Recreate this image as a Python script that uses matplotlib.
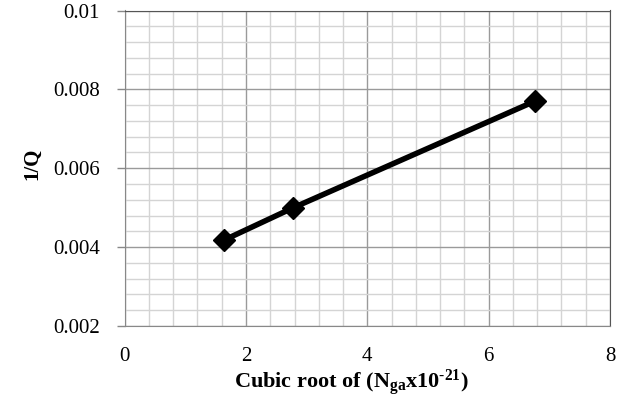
import matplotlib
matplotlib.use("Agg")
import matplotlib.pyplot as plt
import numpy as np

x_vals = [1.64, 2.78, 6.76]
y_vals = [0.00418, 0.00500, 0.00770]
x_ticks = [0, 2, 4, 6, 8]
y_ticks = [0.002, 0.004, 0.006, 0.008, 0.01]
y_tick_labels = ["0.002", "0.004", "0.006", "0.008", "0.01"]

plt.rcParams['font.family'] = ['Liberation Serif', 'DejaVu Serif']
plt.rcParams['mathtext.fontset'] = 'custom'
plt.rcParams['mathtext.rm'] = 'Liberation Serif'
plt.rcParams['mathtext.it'] = 'Liberation Serif:italic'
plt.rcParams['mathtext.bf'] = 'Liberation Serif:bold'

fig = plt.figure(figsize=(6.33, 4.03), dpi=100)
ax = fig.add_axes([124.7/633, 1 - 326/403, (610 - 124.7)/633, (326 - 10.5)/403])

ax.set_xlim(0, 8)
ax.set_ylim(0.002, 0.01)
ax.set_xticks(x_ticks)
ax.set_yticks(y_ticks)
ax.set_yticklabels(y_tick_labels)
ax.set_xticks(np.arange(0, 8.01, 0.4), minor=True)
ax.set_yticks(np.arange(0.002, 0.01001, 0.0004), minor=True)

ax.grid(which='minor', color='#d4d4d4', linewidth=1.0)
ax.grid(which='major', color='#9a9a9a', linewidth=1.0)
ax.set_axisbelow(True)

ax.tick_params(axis='y', which='major', length=6, width=1, color='#888888', labelsize=15, pad=12)
ax.tick_params(axis='x', which='major', length=0, labelsize=15, pad=15)
ax.tick_params(which='minor', length=0)

for s in ['left', 'bottom']:
    ax.spines[s].set_color('#888888')
for s in ['top', 'right']:
    ax.spines[s].set_color('#555555')

ax.plot(x_vals, y_vals, color='black', linewidth=4, marker='D', markersize=11,
        markerfacecolor='black', markeredgecolor='black', zorder=3)

fig.text(351.5/633, 1 - 383/403,
         "Cubic root of (N$_{\\mathbf{ga}}$x10$^{\\mathbf{\u2010}\\mathbf{21}}$)",
         fontsize=16, fontweight='bold', ha='center', va='center')
fig.text(32/633, 1 - 164/403, "1/Q", fontsize=15, fontweight='bold',
         rotation=90, ha='center', va='center')

fig.savefig("out.png", dpi=100)
